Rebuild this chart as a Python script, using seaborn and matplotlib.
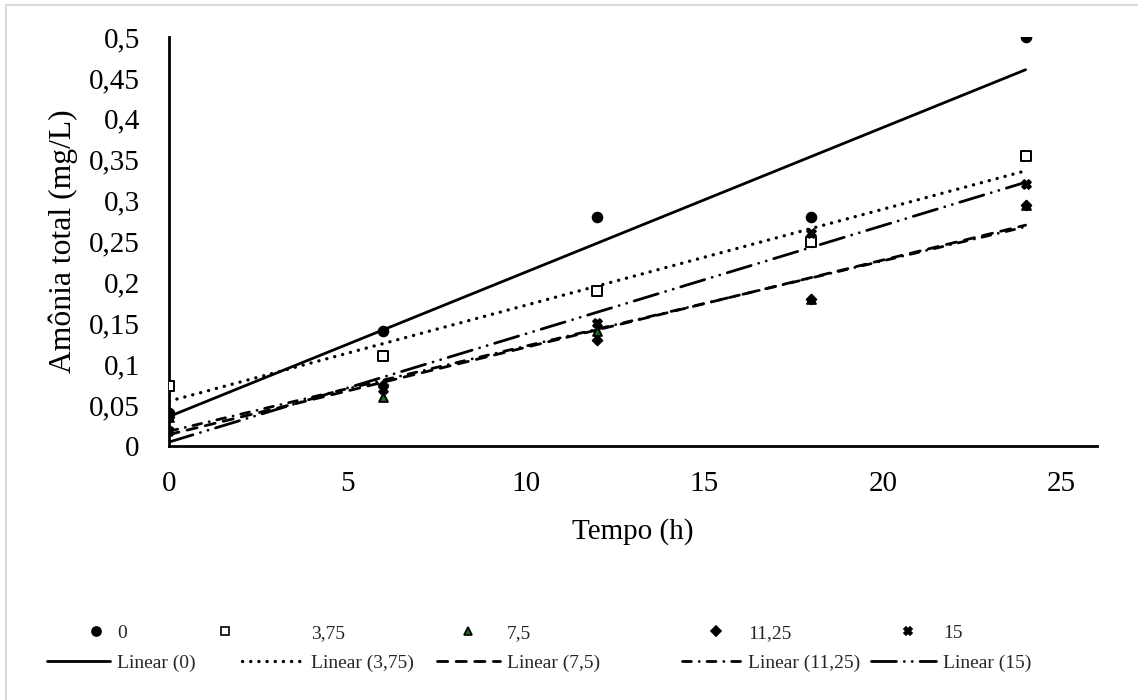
import numpy as np
import pandas as pd
import matplotlib
matplotlib.use("Agg")
import matplotlib.pyplot as plt
import seaborn as sns
from matplotlib.lines import Line2D
from matplotlib.patches import Rectangle
from matplotlib.ticker import FuncFormatter

# Dados
tempo = [0, 6, 12, 18, 24]
conc_0 = [0.04, 0.14, 0.28, 0.28, 0.50]
conc_375 = [0.073, 0.11, 0.19, 0.25, 0.355]
conc_75 = [0.035, 0.06, 0.14, 0.18, 0.295]
conc_1125 = [0.035, 0.075, 0.13, 0.18, 0.295]
conc_15 = [0.018, 0.07, 0.15, 0.26, 0.32]
rotulos = ["0", "3,75", "7,5", "11,25", "15"]

series = [conc_0, conc_375, conc_75, conc_1125, conc_15]

sns.set_theme(style="white")
plt.rcParams["font.family"] = ["Liberation Serif", "DejaVu Serif"]

# estilo de cada série (marcador e tipo de linha da tendência)
estilos = [
    dict(marker="o", s=48, ms=6.5, color="black", lw=2.0, ls="-"),
    dict(marker="s", s=42, ms=6, color="white", lw=2.4, ls=(0, (0.05, 2.4))),
    dict(marker="^", s=40, ms=6, color="#1f6b1f", lw=2.0, ls=(0, (3.7, 3.0))),
    dict(marker="D", s=24, ms=5, color="black", lw=2.0, ls=(0, (3.2, 2.8, 0.05, 2.8))),
    dict(marker="X", s=40, ms=6, color="black", lw=2.0, ls=(0, (9, 2.8, 0.05, 2.8, 0.05, 2.8))),
]

fig = plt.figure(figsize=(11.38, 7.0), dpi=100)
ax = fig.add_axes([169 / 1138, 1 - 446 / 700, (1097 - 169) / 1138, (446 - 37) / 700])

for vals, st in zip(series, estilos):
    sns.regplot(x=tempo, y=vals, ax=ax, scatter=False, ci=None, truncate=True,
                line_kws=dict(color="black", lw=st["lw"], ls=st["ls"],
                              dash_capstyle="round" if st["ls"] != "-" else "butt"))

for vals, st in zip(series, estilos):
    sns.scatterplot(x=tempo, y=vals, ax=ax, marker=st["marker"], s=st["s"],
                    color=st["color"], edgecolor="black",
                    linewidth=1.4, zorder=5, legend=False)

ax.set_xlim(0, 26)
ax.set_ylim(0, 0.5)
ax.set_xticks([0, 5, 10, 15, 20, 25])
ax.set_yticks(np.arange(0, 0.501, 0.05))
ax.yaxis.set_major_formatter(FuncFormatter(lambda v, p: ("%g" % round(v, 2)).replace(".", ",")))
ax.tick_params(axis="both", labelsize=21, colors="black", length=0)
ax.tick_params(axis="y", pad=21)
ax.tick_params(axis="x", pad=18)
ax.set_xlabel("Tempo (h)", fontsize=21, color="black", labelpad=15)
ax.set_ylabel("Amônia total (mg/L)", fontsize=22.8, color="black", labelpad=8)

for lado in ["top", "right"]:
    ax.spines[lado].set_visible(False)
for lado in ["left", "bottom"]:
    ax.spines[lado].set_color("black")
    ax.spines[lado].set_linewidth(2.0)

# legenda: posições em pixels (marcador, início da linha, início do texto)
leg_fs = 14
em = leg_fs * 100 / 72
pad = 0.35
marc_x = [96, 225, 468, 716, 908]
linha_x = [47, 242, 437, 682, 871]
texto_x = [117, 311, 507, 748, 943]
for rot, st, xm, xl, xt in zip(rotulos, estilos, marc_x, linha_x, texto_x):
    h_pt = Line2D([], [], ls="none", marker=st["marker"], markersize=st["ms"],
                  markerfacecolor=st["color"], markeredgecolor="black",
                  markeredgewidth=1.2)
    h_ln = Line2D([], [], color="black", lw=st["lw"], ls=st["ls"],
                  dash_capstyle="round" if st["ls"] != "-" else "butt")
    hl_pt = 2 * (xt - xm - pad * em)
    fig.legend([h_pt], [rot], loc="center left",
               bbox_to_anchor=((xm - hl_pt / 2) / 1138, 1 - 633 / 700), frameon=False,
               fontsize=leg_fs, handlelength=hl_pt / em, handletextpad=pad,
               borderpad=0, borderaxespad=0)
    hl_ln = xt - xl - pad * em
    fig.legend([h_ln], ["Linear (%s)" % rot], loc="center left",
               bbox_to_anchor=(xl / 1138, 1 - 663 / 700), frameon=False,
               fontsize=leg_fs, handlelength=hl_ln / em, handletextpad=pad,
               borderpad=0, borderaxespad=0)

# moldura cinza clara do gráfico
fig.patches.append(Rectangle((6 / 1138, -0.1), 1.2, 1.1 - 5 / 700, transform=fig.transFigure,
                             fill=False, edgecolor="#d9d9d9", lw=1.5))

fig.savefig("out.png", dpi=100)
